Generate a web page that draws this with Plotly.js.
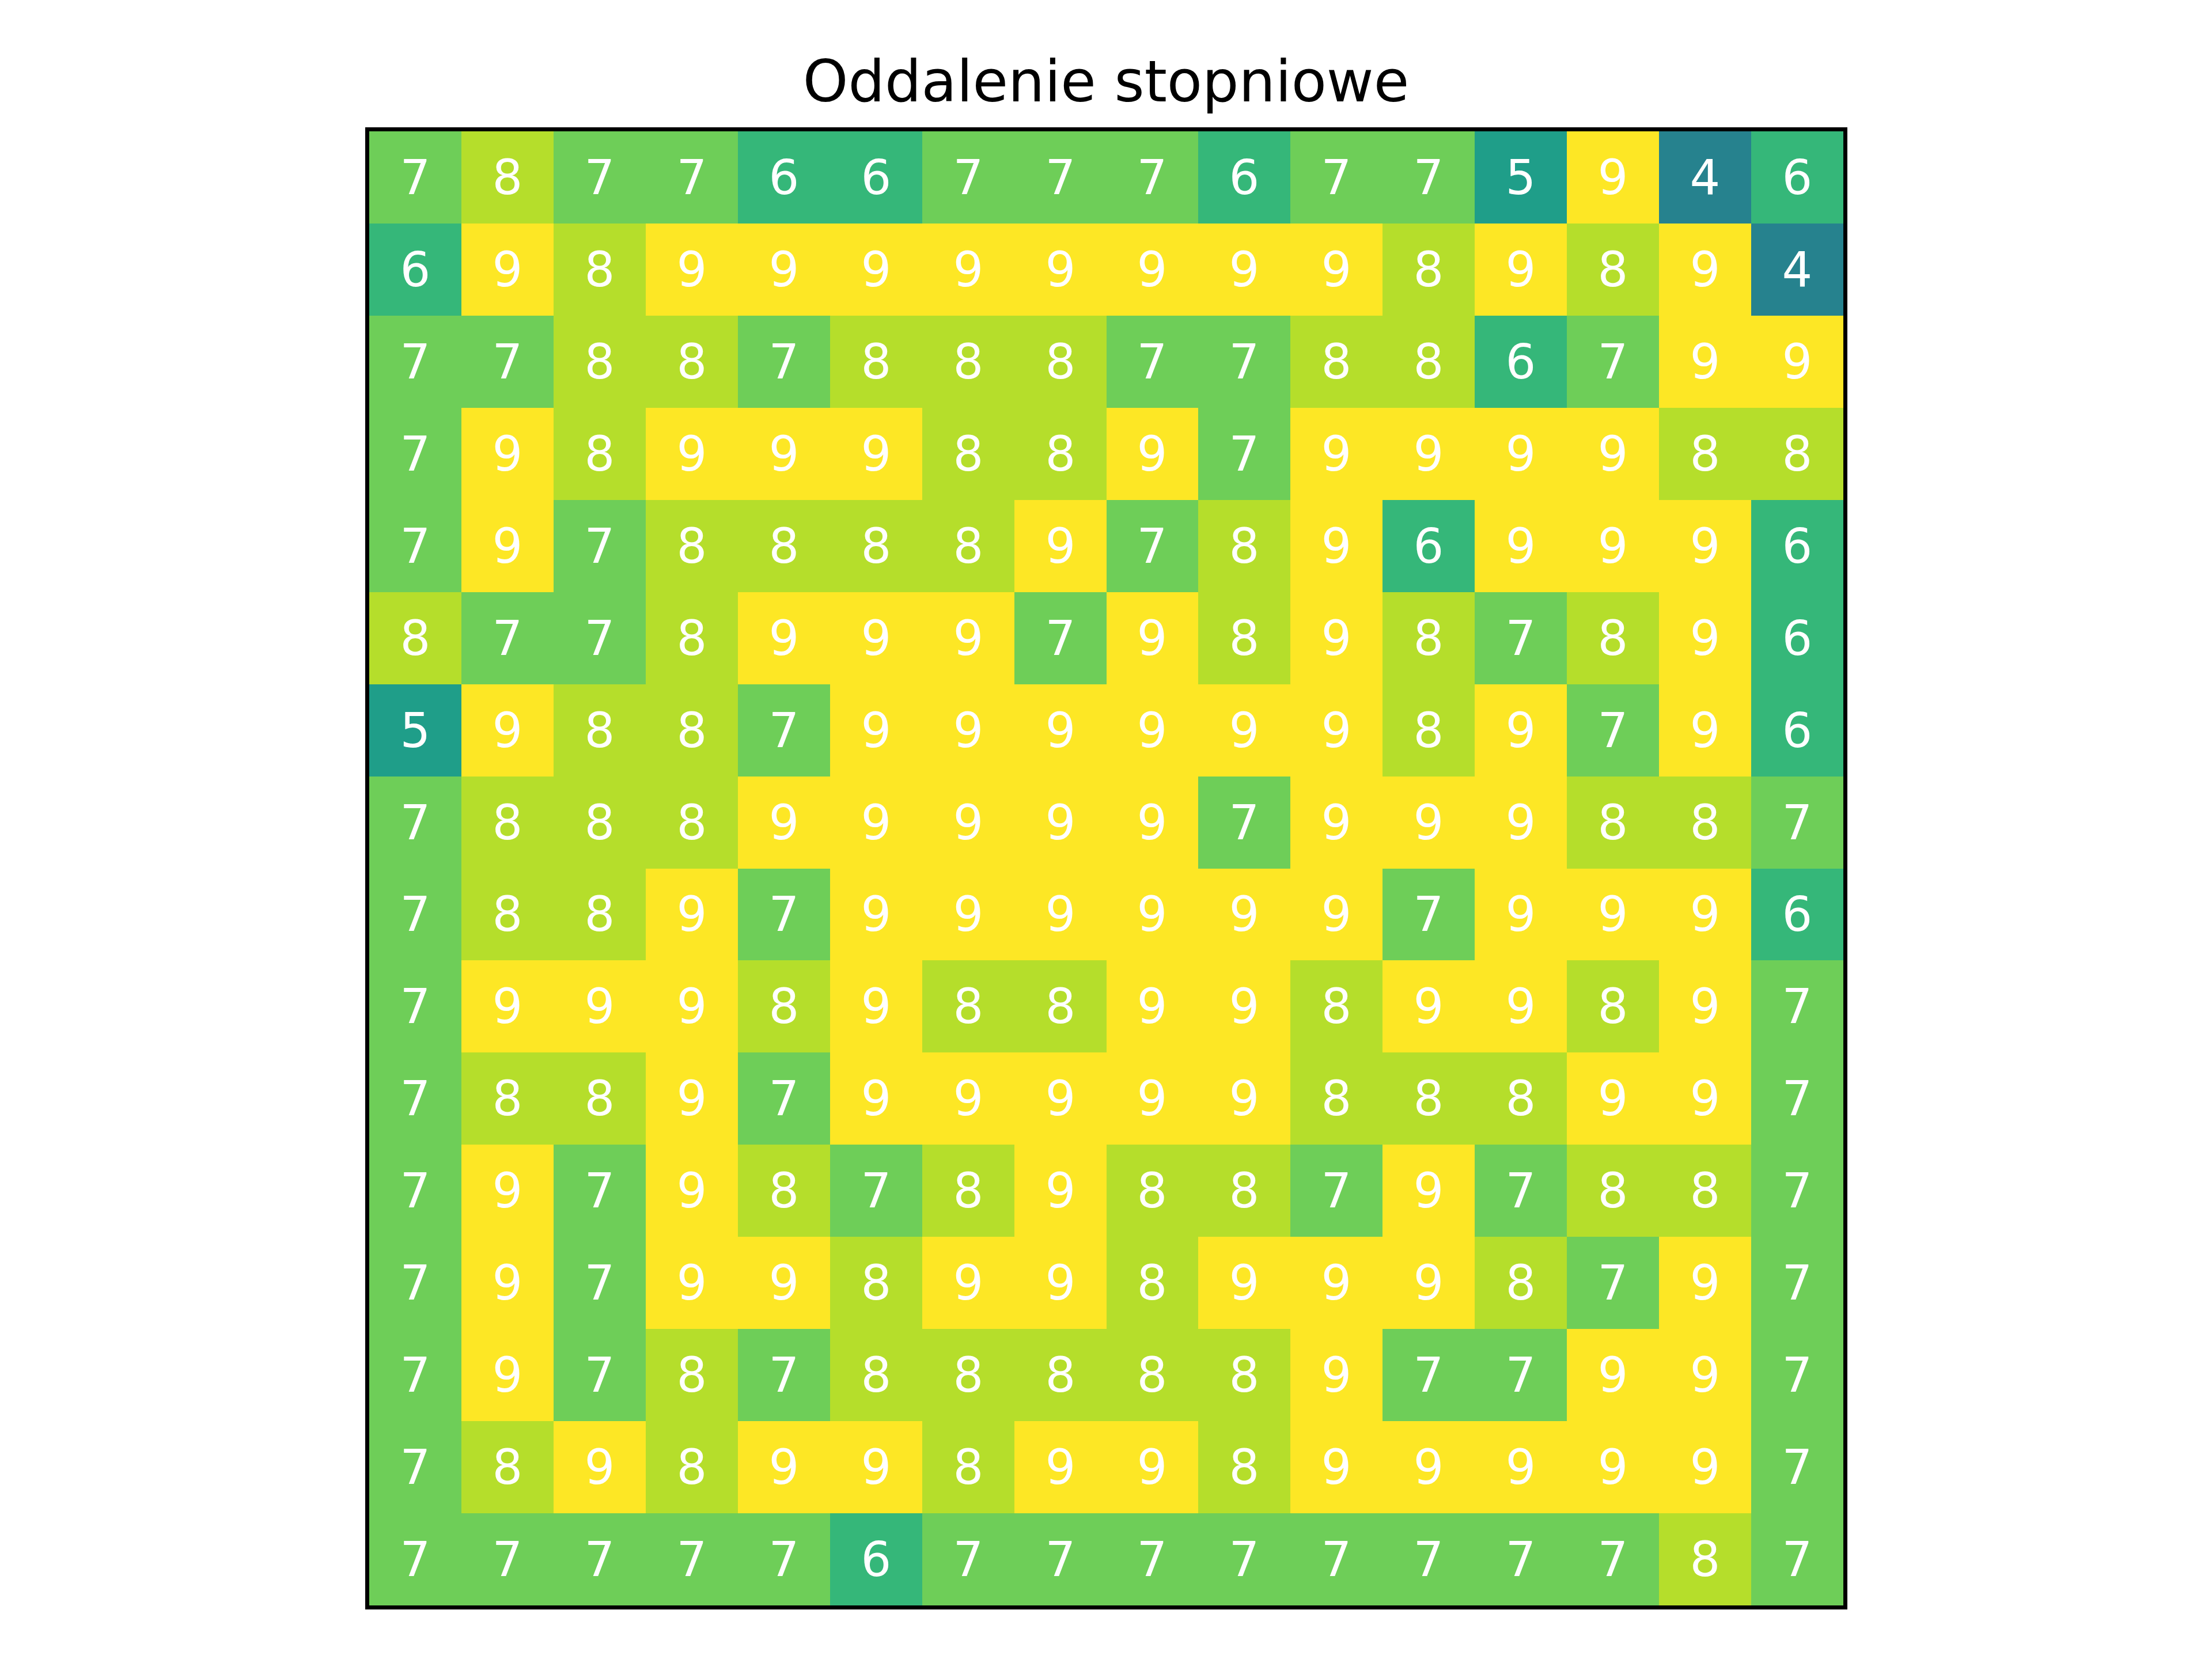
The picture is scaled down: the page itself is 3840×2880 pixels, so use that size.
<!DOCTYPE html>
<html>
<head>
<meta charset="utf-8">
<script src="https://cdn.plot.ly/plotly-3.0.1.min.js"></script>
<style>html,body{margin:0;padding:0;background:#fff;}</style>
</head>
<body>
<div id="chart" style="width:3840px;height:2880px;"></div>
<script>
const chartTitle = "Oddalenie stopniowe";
const columns = [0,1,2,3,4,5,6,7,8,9,10,11,12,13,14,15];
const rowsIdx = [0,1,2,3,4,5,6,7,8,9,10,11,12,13,14,15];
const values = [
  [7,8,7,7,6,6,7,7,7,6,7,7,5,9,4,6],
  [6,9,8,9,9,9,9,9,9,9,9,8,9,8,9,4],
  [7,7,8,8,7,8,8,8,7,7,8,8,6,7,9,9],
  [7,9,8,9,9,9,8,8,9,7,9,9,9,9,8,8],
  [7,9,7,8,8,8,8,9,7,8,9,6,9,9,9,6],
  [8,7,7,8,9,9,9,7,9,8,9,8,7,8,9,6],
  [5,9,8,8,7,9,9,9,9,9,9,8,9,7,9,6],
  [7,8,8,8,9,9,9,9,9,7,9,9,9,8,8,7],
  [7,8,8,9,7,9,9,9,9,9,9,7,9,9,9,6],
  [7,9,9,9,8,9,8,8,9,9,8,9,9,8,9,7],
  [7,8,8,9,7,9,9,9,9,9,8,8,8,9,9,7],
  [7,9,7,9,8,7,8,9,8,8,7,9,7,8,8,7],
  [7,9,7,9,9,8,9,9,8,9,9,9,8,7,9,7],
  [7,9,7,8,7,8,8,8,8,8,9,7,7,9,9,7],
  [7,8,9,8,9,9,8,9,9,8,9,9,9,9,9,7],
  [7,7,7,7,7,6,7,7,7,7,7,7,7,7,8,7]
];

// matplotlib viridis, normalised over 0..9
const viridis = [
  [0.0, '#440154'], [0.111, '#482878'], [0.222, '#3e4989'], [0.333, '#31688e'],
  [0.444, '#26828e'], [0.556, '#1f9e89'], [0.667, '#35b779'], [0.778, '#6ece58'],
  [0.889, '#b5de2b'], [1.0, '#fde725']
];

const trace = {
  type: 'heatmap',
  x: columns,
  y: rowsIdx,
  z: values,
  zmin: 0,
  zmax: 9,
  colorscale: viridis,
  showscale: false,
  texttemplate: '%{z}',
  textfont: {family: 'DejaVu Sans', size: 83, color: '#ffffff'},
  hoverinfo: 'none'
};

const axisCommon = {
  showticklabels: false,
  ticks: '',
  showgrid: false,
  zeroline: false,
  showline: true,
  mirror: true,
  linecolor: '#000000',
  linewidth: 7
};

const layout = {
  width: 3840,
  height: 2880,
  margin: {l: 641, r: 640, t: 228, b: 93, pad: 0},
  paper_bgcolor: '#ffffff',
  plot_bgcolor: '#ffffff',
  title: {
    text: chartTitle,
    font: {family: 'DejaVu Sans', size: 100, color: '#000000'},
    x: 0.5, xanchor: 'center',
    y: 1 - 176/2880, yanchor: 'bottom', yref: 'container'
  },
  xaxis: Object.assign({range: [-0.5, 15.5]}, axisCommon),
  yaxis: Object.assign({range: [15.5, -0.5]}, axisCommon),
  showlegend: false
};

Plotly.newPlot('chart', [trace], layout, {staticPlot: true, displayModeBar: false});
</script>
</body>
</html>
